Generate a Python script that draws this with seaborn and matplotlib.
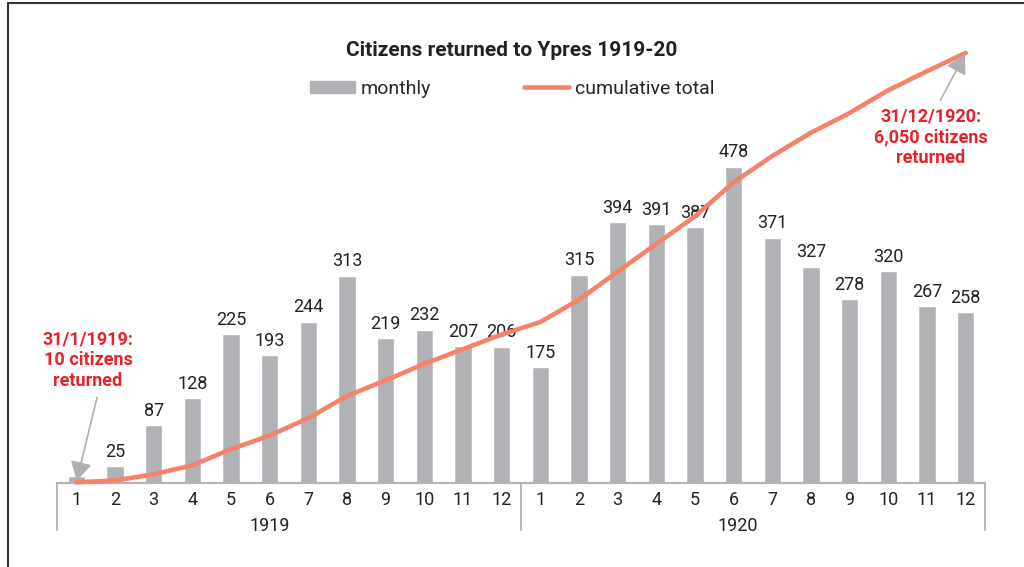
import pandas as pd
import matplotlib.pyplot as plt
import matplotlib.patches as mpatches
import matplotlib.lines as mlines
import seaborn as sns

# data
years = ["1919"] * 12 + ["1920"] * 12
months = [str(m) for m in range(1, 13)] * 2
monthly = [10, 25, 87, 128, 225, 193, 244, 313, 219, 232, 207, 206,
           175, 315, 394, 391, 387, 478, 371, 327, 278, 320, 267, 258]
cumulative = [10, 35, 122, 250, 475, 668, 912, 1225, 1444, 1676, 1883, 2089,
              2264, 2579, 2973, 3364, 3751, 4229, 4600, 4927, 5205, 5525, 5792, 6050]

df = pd.DataFrame({"year": years, "month": months,
                   "monthly": monthly, "cumulative": cumulative})
df["slot"] = df["year"] + "-" + df["month"]
df["pos"] = range(len(df))

BAR = "#b1b2b6"
LINE = "#f4836a"
RED = "#e8202a"
GREY = "#b5b5b7"

sns.set_style("white")
plt.rcParams["font.family"] = ["Liberation Sans Narrow", "Roboto", "DejaVu Sans"]

fig = plt.figure(figsize=(10.24, 5.67), dpi=100)
W, H = 1024, 567
ax = fig.add_axes([57 / W, 1 - 483 / H, (985 - 57) / W, (483 - 40) / H])

sns.barplot(data=df, x="slot", y="monthly", color=BAR, width=0.44,
            saturation=1, ax=ax, zorder=2)
labels = [""] + [str(v) for v in monthly[1:]]
ax.bar_label(ax.containers[0], labels=labels, padding=4, fontsize=13, color="#222222")

ax.set_xlim(-0.5, len(df) - 0.5)
ax.set_ylim(0, 670)
ax.set_xticks(range(len(df)))
ax.set_xticklabels(df["month"], fontsize=13, color="#222222")
ax.tick_params(axis="x", length=0, pad=6)
ax.set_yticks([])
ax.set_xlabel("")
ax.set_ylabel("")
for s in ["top", "left", "right"]:
    ax.spines[s].set_visible(False)
ax.spines["bottom"].set_color(GREY)
ax.spines["bottom"].set_linewidth(1.6)

# cumulative line on a hidden second scale
ax2 = ax.twinx()
sns.lineplot(data=df, x="pos", y="cumulative", color=LINE, linewidth=3.3,
             ax=ax2, clip_on=False, zorder=3)
ax2.set_ylim(0, 6231)
ax2.set_xlim(-0.5, len(df) - 0.5)
ax2.set_yticks([])
ax2.set_ylabel("")
ax2.set_xlabel("")
for s in ax2.spines.values():
    s.set_visible(False)

# year groups under the month ticks
trans = ax.get_xaxis_transform()
for x in [-0.5, 11.5, 23.5]:
    ax.plot([x, x], [0, -0.107], color=GREY, lw=1.4, transform=trans, clip_on=False)
for name, x in [("1919", 5.0), ("1920", 17.1)]:
    ax.text(x, -0.097, name, transform=trans, ha="center", va="center",
            fontsize=13, color="#222222")

# annotations
def arrow(rel):
    return dict(arrowstyle="-|>,head_length=0.9,head_width=0.5", color="#b0b0b2",
                lw=1.2, shrinkA=3, shrinkB=1, mutation_scale=13, relpos=rel)

ax2.annotate("31/1/1919:\n10 citizens\nreturned", xy=(0, cumulative[0]),
             xytext=(88, H - 360), textcoords="figure pixels",
             ha="center", va="center", color=RED, fontsize=13, fontweight="bold",
             linespacing=1.2, arrowprops=arrow((0.62, 0)))
ax2.annotate("31/12/1920:\n6,050 citizens\nreturned", xy=(23, cumulative[-1]),
             xytext=(931, H - 137), textcoords="figure pixels",
             ha="center", va="center", color=RED, fontsize=13, fontweight="bold",
             linespacing=1.2, arrowprops=arrow((0.55, 1)))

fig.text(0.5, 1 - 50 / H, "Citizens returned to Ypres 1919-20", ha="center",
         va="center", fontsize=15, fontweight="bold", color="#222222")

handles = [mpatches.Patch(color=BAR, label="monthly"),
           mlines.Line2D([], [], color=LINE, lw=3.3, label="cumulative total")]
fig.legend(handles=handles, loc="center", bbox_to_anchor=(0.5, 1 - 89 / H),
           ncol=2, frameon=False, fontsize=14, handlelength=2.3, handleheight=0.6,
           columnspacing=4.8, handletextpad=0.3)

# thin frame on the top and left edges
fig.add_artist(mlines.Line2D([8 / W, 8 / W], [0, 1 - 3 / H], color="#333333", lw=1.5))
fig.add_artist(mlines.Line2D([8 / W, 1], [1 - 3 / H, 1 - 3 / H], color="#333333", lw=1.5))

fig.savefig("out.png", dpi=100)
